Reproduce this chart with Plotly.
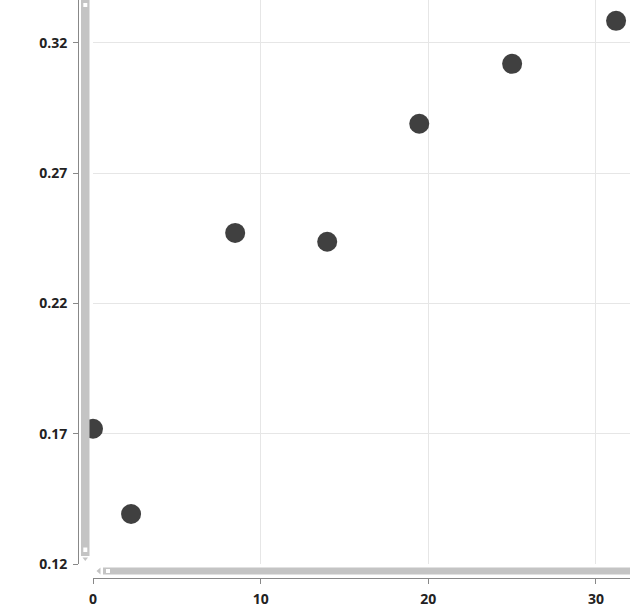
import plotly.graph_objects as go

# data
x_vals = [0, 2.27, 8.48, 13.97, 19.46, 25.0, 31.2]
y_vals = [0.1719, 0.1392, 0.2471, 0.2437, 0.289, 0.312, 0.3285]
x_ticks = [0, 10, 20, 30]
y_ticks = [0.12, 0.17, 0.22, 0.27, 0.32]
y_tick_text = ["0.12", "0.17", "0.22", "0.27", "0.32"]

W, H = 630, 612
ML, MB = 78, 34
PW, PH = W - ML, H - MB


def px(x):
    return (x - ML) / PW


def py(y):
    return (PH - y) / PH


BAR = "#c4c4c4"
AXIS = "#888888"
GRID = "#e6e6e6"
LABEL_FONT = dict(family="Open Sans", size=14, color="#222222", weight="bold")

fig = go.Figure()
fig.add_trace(go.Scatter(
    x=x_vals, y=y_vals, mode="markers",
    marker=dict(size=20, color="#404040", line=dict(width=0)),
    hoverinfo="x+y", showlegend=False, cliponaxis=False,
))

fig.update_layout(
    width=W, height=H,
    margin=dict(l=ML, r=0, t=0, b=MB, pad=0),
    paper_bgcolor="white", plot_bgcolor="white",
    xaxis=dict(
        domain=[px(93), 1], anchor="free", position=0,
        range=[0, 32.03], tickvals=x_ticks,
        showgrid=True, gridcolor=GRID, zeroline=False,
        showline=True, linecolor=AXIS, linewidth=1,
        ticks="outside", ticklen=5, tickcolor=AXIS,
        tickfont=LABEL_FONT, ticklabelstandoff=3,
        automargin=False,
    ),
    yaxis=dict(
        domain=[py(564), 1], anchor="free", position=0,
        range=[0.12, 0.3365], tickvals=y_ticks, ticktext=y_tick_text,
        showgrid=True, gridcolor=GRID, zeroline=False,
        showline=True, linecolor=AXIS, linewidth=1,
        ticks="outside", ticklen=5, tickcolor=AXIS,
        tickfont=LABEL_FONT, ticklabelstandoff=3,
        automargin=False,
    ),
)

shapes = []
# vertical scrollbar
shapes.append(dict(type="rect", xref="paper", yref="paper",
                   x0=px(81), x1=px(89.5), y0=py(556), y1=py(0),
                   fillcolor=BAR, line=dict(width=0), layer="above"))
shapes.append(dict(type="rect", xref="paper", yref="paper",
                   x0=px(83.3), x1=px(87.3), y0=py(7), y1=py(3),
                   fillcolor="white", line=dict(width=0), layer="above"))
shapes.append(dict(type="rect", xref="paper", yref="paper",
                   x0=px(83.3), x1=px(87.3), y0=py(552), y1=py(547.5),
                   fillcolor="white", line=dict(width=0), layer="above"))
shapes.append(dict(type="path", xref="paper", yref="paper",
                   path="M %f,%f L %f,%f L %f,%f Z" % (px(82.5), py(557.5), px(88), py(557.5), px(85.3), py(561)),
                   fillcolor=BAR, line=dict(width=0), layer="above"))
# horizontal scrollbar
shapes.append(dict(type="rect", xref="paper", yref="paper",
                   x0=px(103), x1=px(630), y0=py(574.5), y1=py(567.5),
                   fillcolor=BAR, line=dict(width=0), layer="above"))
shapes.append(dict(type="rect", xref="paper", yref="paper",
                   x0=px(106), x1=px(110), y0=py(573), y1=py(569),
                   fillcolor="white", line=dict(width=0), layer="above"))
shapes.append(dict(type="path", xref="paper", yref="paper",
                   path="M %f,%f L %f,%f L %f,%f Z" % (px(100.5), py(567.5), px(100.5), py(574.5), px(96.5), py(571)),
                   fillcolor=BAR, line=dict(width=0), layer="above"))
fig.update_layout(shapes=shapes)

fig.write_html("out.html", config={"displayModeBar": False},
               post_script="document.body.style.margin='0px';")
